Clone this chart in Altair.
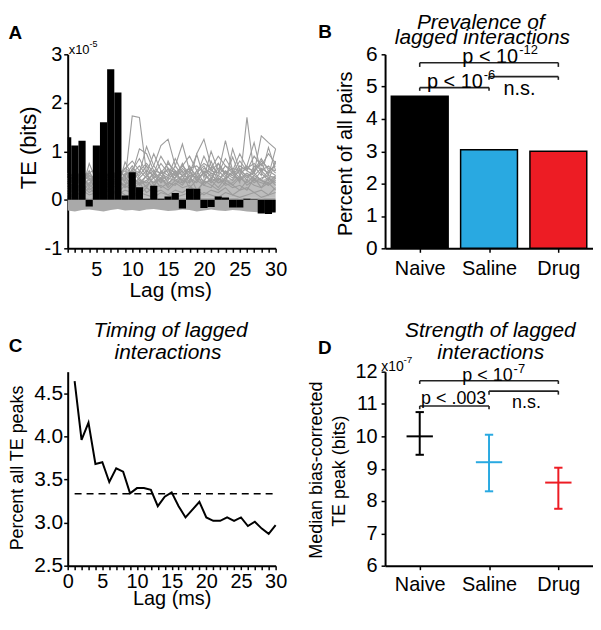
import json
import altair as alt
import pandas as pd

# ---------------- data ----------------
lags = list(range(1, 31))
# observed transfer entropy (x1e-5 bits)
te_observed = [1.29, 1.12, 1.22, -0.14, 1.12, 1.60, 2.69, 2.21, 0.09, 0.57,
               0.26, 0.02, 0.29, 0.02, 0.07, 0.14, -0.18, 0.23, 0.23, -0.17,
               -0.15, 0.07, 0.05, -0.16, -0.16, 0.02, 0.01, -0.28, -0.29, -0.26]
# shuffled (null) distributions (x1e-5 bits)
null_band_low = [-0.22, -0.24, -0.21, -0.20, -0.22, -0.24, -0.21, -0.19, -0.22, -0.21,
                 -0.23, -0.20, -0.19, -0.21, -0.23, -0.22, -0.20, -0.21, -0.24, -0.22,
                 -0.20, -0.22, -0.23, -0.21, -0.22, -0.24, -0.25, -0.26, -0.25, -0.24]
null_band_high = [0.04, 0.03, 0.05, 0.03, 0.04, 0.05, 0.03, 0.04, 0.05, 0.03,
                  0.04, 0.05, 0.03, 0.04, 0.05, 0.03, 0.04, 0.05, 0.03, 0.04,
                  0.05, 0.03, 0.04, 0.05, 0.03, 0.04, 0.05, 0.03, 0.04, 0.05]
null_core_high = [0.30, 0.35, 0.28, 0.38, 0.32, 0.36, 0.30, 0.40, 0.42, 0.38,
                  0.44, 0.36, 0.40, 0.45, 0.38, 0.42, 0.46, 0.40, 0.44, 0.38,
                  0.42, 0.46, 0.40, 0.44, 0.48, 0.42, 0.45, 0.40, 0.46, 0.50]
null_01 = [0.35, 0.25, 0.45, 0.30, 0.20, 0.40, 0.30, 0.45, 0.40, 1.73, 1.70, 0.55, 0.30, 0.45, 0.25,
           0.40, 0.30, 0.50, 0.20, 0.35, 0.40, 0.25, 0.45, 0.30, 0.20, 0.40, 0.30, 0.25, 0.45, 0.30]
null_02 = [0.20, 0.40, 0.30, 0.55, 0.35, 0.25, 0.45, 0.30, 0.55, 0.40, 0.30, 0.50, 0.35, 0.45, 0.30,
           0.55, 0.40, 0.35, 0.50, 0.30, 0.45, 0.35, 0.40, 0.60, 0.35, 1.70, 0.55, 0.40, 0.30, 0.45]
null_03 = [0.45, 0.30, 0.20, 0.75, 0.40, 0.30, 0.25, 0.50, 0.60, 0.45, 0.35, 0.50, 0.70, 1.12, 1.25,
           0.70, 1.15, 0.60, 0.40, 0.55, 0.35, 0.50, 0.40, 0.30, 0.45, 0.35, 0.50, 0.40, 0.35, 0.50]
null_04 = [0.30, 0.50, 0.35, 0.40, 0.55, 0.40, 0.30, 0.70, 0.45, 0.55, 1.05, 0.95, 0.60, 0.40, 0.50,
           0.45, 0.60, 0.35, 0.95, 1.25, 0.70, 0.55, 1.22, 0.60, 0.45, 0.55, 0.40, 0.60, 0.45, 0.35]
null_05 = [0.25, 0.35, 0.50, 0.30, 0.45, 0.55, 0.40, 0.35, 0.50, 0.60, 0.40, 0.35, 0.55, 0.45, 0.65,
           0.40, 0.50, 0.45, 0.35, 0.60, 0.50, 0.40, 0.55, 0.45, 0.60, 0.50, 0.55, 1.32, 1.18, 1.05]
null_06 = [0.40, 0.20, 0.35, 0.60, 0.30, 0.45, 0.55, 0.40, 0.30, 0.65, 0.55, 1.10, 0.70, 0.50, 0.40,
           0.60, 0.35, 0.55, 0.94, 0.45, 1.00, 0.60, 0.45, 0.88, 0.50, 0.70, 1.18, 0.55, 0.40, 0.80]
null_07 = [0.15, 0.30, 0.25, 0.45, 0.20, 0.35, 0.30, 0.25, 0.78, 0.50, 0.30, 0.40, 0.25, 0.60, 0.35,
           0.45, 0.75, 0.40, 0.60, 0.35, 0.80, 0.45, 0.35, 1.05, 0.60, 0.40, 0.70, 0.50, 1.08, 0.60]
null_08 = [0.30, 0.40, 0.15, 0.35, 0.50, 0.20, 0.40, 0.55, 0.35, 0.30, 0.45, 0.25, 0.50, 0.35, 0.80,
           0.50, 0.40, 0.70, 0.45, 0.55, 0.40, 0.75, 0.50, 0.40, 0.65, 0.45, 0.60, 0.75, 0.50, 1.05]
null_09 = [0.10, 0.25, 0.35, 0.20, 0.30, 0.15, 0.25, 0.40, 0.25, 0.35, 0.20, 0.30, 0.45, 0.25, 0.35,
           0.30, 0.50, 0.25, 0.40, 0.30, 0.25, 0.45, 0.30, 0.35, 0.50, 0.30, 0.40, 0.35, 0.30, 0.40]
null_10 = [0.25, 0.10, 0.30, 0.15, 0.25, 0.35, 0.20, 0.15, 0.30, 0.20, 0.35, 0.15, 0.25, 0.30, 0.20,
           0.35, 0.25, 0.30, 0.15, 0.40, 0.30, 0.20, 0.35, 0.25, 0.30, 0.20, 0.45, 0.25, 0.35, 0.20]
null_11 = [0.05, 0.15, 0.10, 0.25, 0.10, 0.20, 0.15, 0.10, 0.20, 0.15, 0.10, 0.25, 0.15, 0.20, 0.10,
           0.20, 0.15, 0.25, 0.20, 0.10, 0.20, 0.15, 0.25, 0.10, 0.20, 0.25, 0.15, 0.20, 0.10, 0.25]
null_12 = [0.10, 0.05, 0.20, 0.10, 0.15, 0.05, 0.10, 0.20, 0.10, 0.05, 0.15, 0.10, 0.05, 0.15, 0.10,
           0.05, 0.10, 0.15, 0.05, 0.15, 0.10, 0.05, 0.15, 0.10, 0.05, 0.10, 0.15, 0.05, 0.10, 0.15]
null_13 = [0.55, 0.35, 0.45, 0.30, 0.60, 0.45, 0.35, 0.60, 0.50, 0.70, 0.45, 0.60, 0.50, 0.75, 0.55,
           0.45, 0.65, 0.50, 0.55, 0.70, 0.45, 0.65, 0.55, 0.50, 0.70, 0.60, 0.50, 0.65, 0.55, 0.75]
null_14 = [0.35, 0.55, 0.40, 0.50, 0.35, 0.60, 0.45, 0.40, 0.45, 0.35, 0.60, 0.45, 0.35, 0.55, 0.45,
           0.70, 0.50, 0.60, 0.40, 0.55, 0.65, 0.40, 0.60, 0.50, 0.40, 0.55, 0.45, 0.40, 0.60, 0.50]
null_15 = [0.50, 0.40, 0.60, 0.45, 0.35, 0.55, 0.50, 0.45, 0.65, 0.55, 0.70, 0.50, 0.60, 0.55, 0.75,
           0.60, 0.50, 0.65, 0.70, 0.55, 0.60, 0.75, 0.55, 0.65, 0.60, 0.70, 0.55, 0.80, 0.65, 0.60]
null_16 = [0.40, 0.60, 0.45, 0.55, 0.65, 0.40, 0.60, 0.50, 0.40, 0.60, 0.50, 0.70, 0.45, 0.55, 0.60,
           0.50, 0.70, 0.55, 0.45, 0.65, 0.55, 0.50, 0.70, 0.60, 0.55, 0.65, 0.75, 0.60, 0.70, 0.55]
null_17 = [0.20, 0.30, 0.45, 0.25, 0.40, 0.30, 0.50, 0.35, 0.30, 0.45, 0.35, 0.40, 0.55, 0.35, 0.45,
           0.40, 0.35, 0.50, 0.45, 0.40, 0.55, 0.35, 0.45, 0.55, 0.40, 0.50, 0.35, 0.45, 0.50, 0.45]
null_18 = [0.30, 0.45, 0.35, 0.50, 0.40, 0.35, 0.45, 0.55, 0.50, 0.60, 0.85, 0.55, 0.95, 0.60, 0.50,
           0.85, 0.55, 0.65, 0.50, 0.90, 0.60, 0.55, 0.85, 0.60, 0.95, 0.65, 0.60, 0.85, 0.60, 0.70]
null_19 = [0.45, 0.35, 0.55, 0.40, 0.50, 0.45, 0.40, 0.50, 0.65, 0.80, 0.60, 0.75, 0.55, 0.90, 0.65,
           0.55, 0.70, 0.90, 0.60, 0.75, 0.65, 0.90, 0.70, 0.55, 0.80, 0.60, 0.90, 0.70, 0.95, 0.75]
null_series = [null_01, null_02, null_03, null_04, null_05, null_06, null_07, null_08, null_09,
               null_10, null_11, null_12, null_13, null_14, null_15, null_16, null_17, null_18,
               null_19]

groups = ["Naive", "Saline", "Drug"]
group_colors = ["#000000", "#29a9e1", "#ed1c24"]
prevalence = [4.70, 3.05, 3.00]

peak_lags = list(range(1, 31))
peak_percent = [4.64, 3.96, 4.16, 3.68, 3.70, 3.47, 3.63, 3.59, 3.34, 3.40,
                3.40, 3.38, 3.19, 3.30, 3.35, 3.19, 3.06, 3.15, 3.24, 3.06,
                3.02, 3.02, 3.06, 3.02, 3.06, 2.96, 3.01, 2.93, 2.87, 2.97]
uniform_percent = 100.0 / 30

strength_median = [10.00, 9.20, 8.57]
strength_low = [9.43, 8.30, 7.76]
strength_high = [10.75, 10.05, 9.03]

# ---------------- style ----------------
FONT = "Liberation Sans"
W, H = 209, 195
GRAY = "#9c9c9c"


def txt(s, x, y, size, **kw):
    return alt.Chart(pd.DataFrame({"t": [s]})).mark_text(
        font=FONT, fontSize=size, color="black", **kw
    ).encode(text="t:N", x=alt.value(x), y=alt.value(y))


def axis_common(**kw):
    base = dict(title=None, grid=False, domainColor="black", domainWidth=2,
                tickColor="black", tickWidth=1.5, tickSize=4, labelColor="black",
                labelFont=FONT, labelFontSize=20)
    base.update(kw)
    return alt.Axis(**base)


HYPHEN_INT = "datum.value < 0 ? '-' + format(-datum.value, 'd') : format(datum.value, 'd')"

# ---------------- Panel A ----------------
rows = []
for si, s in enumerate(null_series):
    for lag, v in zip(lags, s):
        rows.append({"lag": lag, "v": v, "s": si})
null_df = pd.DataFrame(rows)
band_df = pd.DataFrame({"lag": lags, "lo": null_band_low, "hi": null_band_high,
                        "core": null_core_high})
te_df = pd.DataFrame({"lag": lags, "te": te_observed})

xA_scale = alt.Scale(domain=[1, 30], nice=False, zero=False)
yA_scale = alt.Scale(domain=[-1, 3], nice=False)
xA_axis = axis_common(values=lags, labelExpr="datum.value % 5 === 0 ? datum.label : ''",
                      labelOverlap=False, labelFlush=False, labelPadding=7)
yA_axis = axis_common(values=[-1, 0, 1, 2, 3], labelExpr=HYPHEN_INT, labelPadding=2)

coreA = alt.Chart(band_df).mark_area(color="#bdbdbd").encode(
    x=alt.X("lag:Q", scale=xA_scale, axis=xA_axis),
    y=alt.Y("hi:Q", scale=yA_scale, axis=yA_axis), y2="core:Q")
bandA = alt.Chart(band_df).mark_area(color="#a9a9a9").encode(
    x=alt.X("lag:Q", scale=xA_scale, axis=xA_axis),
    y=alt.Y("lo:Q", scale=yA_scale, axis=yA_axis), y2="hi:Q")
linesA = alt.Chart(null_df).mark_line(color=GRAY, strokeWidth=1.1).encode(
    x=alt.X("lag:Q", scale=xA_scale, axis=xA_axis),
    y=alt.Y("v:Q", scale=yA_scale, axis=yA_axis), detail="s:N")
barsA = alt.Chart(te_df).transform_calculate(
    x0="datum.lag - 0.5", x1="datum.lag + 0.5"
).mark_rect(color="black", clip=True).encode(
    x=alt.X("x0:Q", scale=xA_scale, axis=xA_axis), x2="x1:Q",
    y=alt.Y("te:Q", scale=yA_scale, axis=yA_axis), y2=alt.datum(0))

panelA = alt.layer(
    coreA, bandA, linesA, barsA,
    txt("A", -59.5, -21, 19, fontWeight="bold", align="left"),
    txt("x10", 1, -4, 13, align="left"),
    txt("-5", 22, -10, 9, align="left"),
    txt("TE (bits)", -38.5, 94, 22, angle=270, align="center", baseline="middle"),
    txt("Lag (ms)", 103.5, 238, 21, align="center"),
).properties(width=W, height=H)

# ---------------- Panel B / D shared ----------------
cat_expr = json.dumps(groups) + "[floor(datum.value)]"
cat_df = pd.DataFrame({"group": groups, "idx": [0, 1, 2], "prev": prevalence,
                       "med": strength_median, "lo": strength_low, "hi": strength_high})
color_scale = alt.Scale(domain=groups, range=group_colors)
xcat_scale = alt.Scale(domain=[0, 3], nice=False, zero=False)


def bracket_layers(xs, ys, brackets, texts, size):
    segs = []
    for (a, b, yl, yd) in brackets:
        xa, xb = a + 0.5, b + 0.5
        segs.append({"x": xa, "x2": xb, "y": yl, "y2": yl})
        segs.append({"x": xa, "x2": xa, "y": yl, "y2": yd})
        segs.append({"x": xb, "x2": xb, "y": yl, "y2": yd})
    seg = alt.Chart(pd.DataFrame(segs)).mark_rule(color="#222222", strokeWidth=1.6).encode(
        x=alt.X("x:Q", scale=xs[0], axis=xs[1]), x2="x2:Q",
        y=alt.Y("y:Q", scale=ys[0], axis=ys[1]), y2="y2:Q")
    out = [seg]
    for (main, sup, xpos, ypos, align) in texts:
        d = pd.DataFrame({"t": [main], "x": [xpos], "y": [ypos]})
        out.append(alt.Chart(d).mark_text(font=FONT, fontSize=size, align=align, color="black").encode(
            text="t:N", x=alt.X("x:Q", scale=xs[0], axis=xs[1]), y=alt.Y("y:Q", scale=ys[0], axis=ys[1])))
        if sup:
            d2 = pd.DataFrame({"t": [sup], "x": [xpos], "y": [ypos]})
            out.append(alt.Chart(d2).mark_text(font=FONT, fontSize=13, align="left", dx=1, dy=-7,
                                               color="black").encode(
                text="t:N", x=alt.X("x:Q", scale=xs[0], axis=xs[1]),
                y=alt.Y("y:Q", scale=ys[0], axis=ys[1])))
    return out


# ---------------- Panel B ----------------
xB_axis = axis_common(values=[0.5, 1.5, 2.5], labelExpr=cat_expr, labelPadding=6,
                      labelFlush=False, labelOverlap=False)
yB_scale = alt.Scale(domain=[0, 6], nice=False)
yB_axis = axis_common(values=[0, 1, 2, 3, 4, 5, 6], format="d", labelPadding=4, labelFontSize=21)

barsB = alt.Chart(cat_df).transform_calculate(
    xs="datum.idx + 0.09", xe="datum.idx + 0.91"
).mark_rect(stroke="black", strokeWidth=1.5).encode(
    x=alt.X("xs:Q", scale=xcat_scale, axis=xB_axis), x2="xe:Q",
    y=alt.Y("prev:Q", scale=yB_scale, axis=yB_axis), y2=alt.datum(0),
    color=alt.Color("group:N", scale=color_scale, legend=None))

bracketsB = bracket_layers(
    (xcat_scale, xB_axis), (yB_scale, yB_axis),
    [(0, 2, 5.74, 5.61), (1, 2, 5.31, 5.21), (0, 1, 4.97, 4.87)],
    [("p < 10", "-12", 1.92, 5.93, "right"),
     ("p < 10", "-6", 1.41, 5.14, "right"),
     ("n.s.", None, 1.94, 4.92, "center")], 20)

panelB = alt.layer(
    barsB, *bracketsB,
    txt("B", -67.2, -22.3, 19, fontWeight="bold", align="left"),
    txt("Prevalence of", 96.2, -31.3, 21, fontStyle="italic", align="center"),
    txt("lagged interactions", 97.8, -16.7, 21, fontStyle="italic", align="center"),
    txt("Percent of all pairs", -38.8, 100, 20, angle=270, align="center", baseline="middle"),
).properties(width=W, height=H)

# ---------------- Panel C ----------------
peak_df = pd.DataFrame({"lag": peak_lags, "pct": peak_percent})
xC_scale = alt.Scale(domain=[0, 30], nice=False, zero=False)
yC_scale = alt.Scale(domain=[2.5, 4.75], nice=False, zero=False)
xC_axis = axis_common(values=list(range(0, 31)), labelExpr="datum.value % 5 === 0 ? datum.label : ''",
                      labelOverlap=False, labelFlush=False, labelPadding=2)
yC_axis = axis_common(values=[2.5, 3.0, 3.5, 4.0, 4.5], format=".1f", labelPadding=1, labelFontSize=21)

lineC = alt.Chart(peak_df).mark_line(color="black", strokeWidth=2).encode(
    x=alt.X("lag:Q", scale=xC_scale, axis=xC_axis),
    y=alt.Y("pct:Q", scale=yC_scale, axis=yC_axis))
ref_df = pd.DataFrame({"x": [peak_lags[0]], "x2": [peak_lags[-1]], "y": [uniform_percent]})
refC = alt.Chart(ref_df).mark_rule(color="black", strokeWidth=1.5, strokeDash=[7, 5]).encode(
    x=alt.X("x:Q", scale=xC_scale, axis=xC_axis), x2="x2:Q",
    y=alt.Y("y:Q", scale=yC_scale, axis=yC_axis))

panelC = alt.layer(
    refC, lineC,
    txt("C", -59.2, -25.3, 19, fontWeight="bold", align="left"),
    txt("Timing of lagged", 103.3, -41, 21, fontStyle="italic", align="center"),
    txt("interactions", 100.8, -18.7, 21, fontStyle="italic", align="center"),
    txt("Percent all TE peaks", -49.5, 96.8, 18, angle=270, align="center", baseline="middle"),
    txt("Lag (ms)", 105, 229, 20, align="center"),
).properties(width=W, height=H)

# ---------------- Panel D ----------------
xD_axis = axis_common(values=[0.5, 1.5, 2.5], labelExpr=cat_expr, labelPadding=5,
                      labelFlush=False, labelOverlap=False)
yD_scale = alt.Scale(domain=[6, 12], nice=False, zero=False)
yD_axis = axis_common(values=[6, 7, 8, 9, 10, 11, 12], format="d", labelPadding=4)

baseD = alt.Chart(cat_df).transform_calculate(
    xc="datum.idx + 0.5", cl="datum.idx + 0.44", cr="datum.idx + 0.56",
    ml="datum.idx + 0.31", mr="datum.idx + 0.69")
colD = alt.Color("group:N", scale=color_scale, legend=None)
vertD = baseD.mark_rule(strokeWidth=2).encode(
    x=alt.X("xc:Q", scale=xcat_scale, axis=xD_axis),
    y=alt.Y("lo:Q", scale=yD_scale, axis=yD_axis), y2="hi:Q", color=colD)
capLoD = baseD.mark_rule(strokeWidth=2).encode(
    x=alt.X("cl:Q", scale=xcat_scale, axis=xD_axis), x2="cr:Q",
    y=alt.Y("lo:Q", scale=yD_scale, axis=yD_axis), color=colD)
capHiD = baseD.mark_rule(strokeWidth=2).encode(
    x=alt.X("cl:Q", scale=xcat_scale, axis=xD_axis), x2="cr:Q",
    y=alt.Y("hi:Q", scale=yD_scale, axis=yD_axis), color=colD)
medD = baseD.mark_rule(strokeWidth=2).encode(
    x=alt.X("ml:Q", scale=xcat_scale, axis=xD_axis), x2="mr:Q",
    y=alt.Y("med:Q", scale=yD_scale, axis=yD_axis), color=colD)

bracketsD = bracket_layers(
    (xcat_scale, xD_axis), (yD_scale, yD_axis),
    [(0, 2, 11.72, 11.62), (1, 2, 11.40, 11.29), (0, 1, 10.94, 10.84)],
    [("p < 10", "-7", 1.84, 11.88, "right"),
     ("p < .003", None, 0.99, 11.15, "center"),
     ("n.s.", None, 2.04, 11.02, "center")], 18)

panelD = alt.layer(
    vertD, capLoD, capHiD, medD, *bracketsD,
    txt("D", -67.5, -23.7, 19, fontWeight="bold", align="left"),
    txt("Strength of lagged", 105.8, -41, 21, fontStyle="italic", align="center"),
    txt("interactions", 106.2, -19.2, 21, fontStyle="italic", align="center"),
    txt("x10", -3.8, -5, 14, align="left"),
    txt("-7", 18.5, -11.5, 10, align="left"),
    txt("Median bias-corrected", -68.5, 99, 18, angle=270, align="center", baseline="middle"),
    txt("TE peak (bits)", -45.5, 100, 18, angle=270, align="center", baseline="middle"),
).properties(width=W, height=H)

chart = alt.concat(
    panelA, panelB, panelC, panelD, columns=2, spacing={"row": 124, "column": 110}
).properties(
    bounds="flush", padding={"left": 0, "top": 2, "right": 0, "bottom": 0}
).configure(font=FONT).configure_view(stroke=None)

chart.save("out.html", embed_options={"renderer": "svg", "actions": False})
